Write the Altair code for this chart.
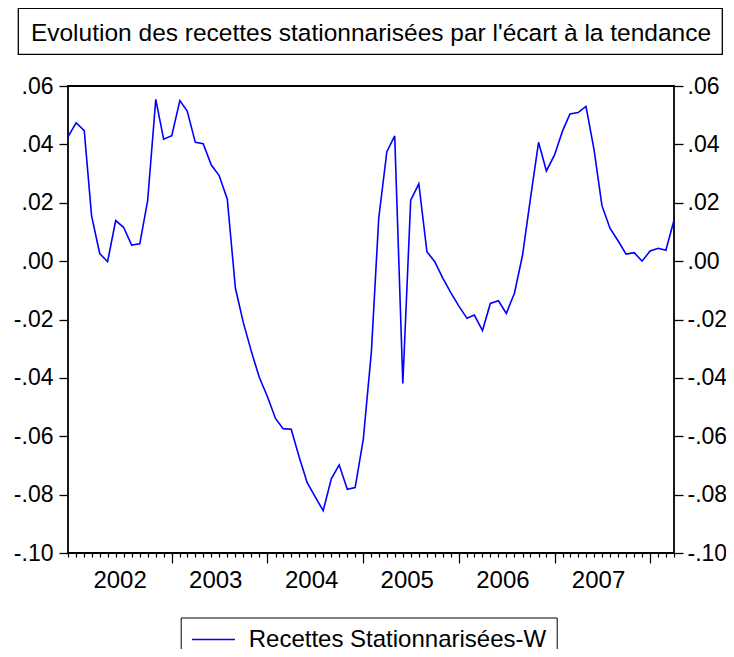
import altair as alt
import pandas as pd

# ---- data -----------------------------------------------------------------
title_text = ["Evolution des recettes stationnarisées par l'écart à la tendance"]
series_name = "Recettes Stationnarisées-W"

# monthly observations, Dec 2001 -> Apr 2008
start_month = "2001-12-01"
n_obs = 77
values = [
    0.0426, 0.0474, 0.0447, 0.0155, 0.0026, -0.0002, 0.0139, 0.0116, 0.0055, 0.0059,
    0.0207, 0.0554, 0.0418, 0.0430, 0.0550, 0.0514, 0.0407, 0.0402, 0.0329, 0.0293,
    0.0212, -0.0093, -0.0210, -0.0310, -0.0398, -0.0464, -0.0539, -0.0574, -0.0576, -0.0670,
    -0.0759, -0.0807, -0.0855, -0.0746, -0.0698, -0.0782, -0.0776, -0.0611, -0.0310, 0.0147,
    0.0375, 0.0429, -0.0419, 0.0209, 0.0265, 0.0032, -0.0002, -0.0059, -0.0108, -0.0154,
    -0.0196, -0.0185, -0.0238, -0.0145, -0.0136, -0.0179, -0.0110, 0.0021, 0.0214, 0.0407,
    0.0309, 0.0364, 0.0447, 0.0504, 0.0509, 0.0530, 0.0381, 0.0190, 0.0112, 0.0069,
    0.0024, 0.0029, 0.0000, 0.0035, 0.0044, 0.0037, 0.0140,
]
year_labels = [2002, 2003, 2004, 2005, 2006, 2007]
major_tick_years = [2003, 2004, 2005, 2006, 2007, 2008]
ytick_values = [-0.10, -0.08, -0.06, -0.04, -0.02, 0.00, 0.02, 0.04, 0.06]

dates = pd.date_range(start_month, periods=n_obs, freq="MS")
df = pd.DataFrame({
    "date": dates.strftime("%Y-%m-%d"),
    "value": values,
    "series": series_name,
})
title_df = pd.DataFrame({"t": title_text})

# ---- helpers --------------------------------------------------------------
FONT = "Liberation Sans"
FS = 24
YFS = 23


def dt(s):
    d = pd.Timestamp(s)
    return alt.DateTime(year=d.year, month=d.month, date=d.day, utc=True)


month_ticks = [dt(d) for d in dates]
major_ticks = [alt.DateTime(year=y, month=1, date=1, utc=True) for y in major_tick_years]
label_pos = [alt.DateTime(year=y, month=6, date=16, utc=True) for y in year_labels]

xscale = alt.Scale(type="utc", domain=[dt(dates[0]), dt(dates[-1])])
yscale = alt.Scale(domain=[-0.10, 0.06], nice=False, zero=False)

ylab = "(datum.value < -0.0001 ? '-' : '') + replace(format(abs(datum.value), '.2f'), '0.', '.')"


def yaxis(orient, pad):
    return alt.Axis(orient=orient, values=ytick_values, labelExpr=ylab, tickSize=9,
                    labelPadding=pad, labelFontSize=YFS, labelFont=FONT, labelColor="black",
                    tickColor="black", tickWidth=1.3, domain=False, grid=False, title=None)


base = alt.Chart(df)

line = base.mark_line(strokeWidth=1.6).encode(
    x=alt.X("date:T", scale=xscale,
            axis=alt.Axis(orient="bottom", values=month_ticks, tickSize=4, tickWidth=1.2,
                          tickColor="black", labels=False, domain=False, grid=False, title=None)),
    y=alt.Y("value:Q", scale=yscale, axis=yaxis("left", 6)),
    color=alt.Color("series:N", scale=alt.Scale(range=["#0000ff"]),
                    legend=alt.Legend(orient="none", legendX=112.7, legendY=531.5, title=None,
                                      symbolType="M-1,0H3", symbolSize=462,
                                      symbolStrokeWidth=1.5, labelFontSize=FS,
                                      labelFont=FONT, labelColor="black", labelLimit=0,
                                      strokeColor="black", padding=10, labelOffset=34)),
)

major = base.mark_line(strokeOpacity=0).encode(
    x=alt.X("date:T", scale=xscale,
            axis=alt.Axis(orient="bottom", values=major_ticks, tickSize=10, tickWidth=1.2,
                          tickColor="black", labels=False, domain=False, grid=False, title=None)),
    y=alt.Y("value:Q", scale=yscale, axis=yaxis("right", 4)),
)

years = base.mark_line(strokeOpacity=0).encode(
    x=alt.X("date:T", scale=xscale,
            axis=alt.Axis(orient="bottom", values=label_pos, ticks=False, tickSize=0,
                          labelExpr="utcFormat(datum.value, '%Y')", labelBaseline="alphabetic",
                          labelPadding=34, labelFontSize=FS, labelFont=FONT,
                          labelColor="black", labelFlush=False, labelOverlap=False,
                          domain=False, grid=False, title=None)),
    y=alt.Y("value:Q", scale=yscale, axis=None),
)

title_box = alt.Chart(title_df).mark_rect(fill="white", stroke="black", strokeWidth=1.3).encode(
    x=alt.value(-49.7), x2=alt.value(654.3), y=alt.value(-77.7), y2=alt.value(-31.7)
)
title_txt = alt.Chart(title_df).mark_text(
    fontSize=24.5, font=FONT, color="black", align="center", baseline="alphabetic"
).encode(text="t:N", x=alt.value(303), y=alt.value(-45))

chart = alt.layer(line, major, years, title_box, title_txt).resolve_axis(
    x="independent", y="independent"
).properties(
    width=606, height=467,
    padding={"left": 60, "top": 78, "right": 52, "bottom": 96},
    autosize=alt.AutoSizeParams(type="none"),
    background="white",
).configure_view(stroke="black", strokeWidth=1.8)

chart.save("out.html", embed_options={"renderer": "svg", "actions": False})
